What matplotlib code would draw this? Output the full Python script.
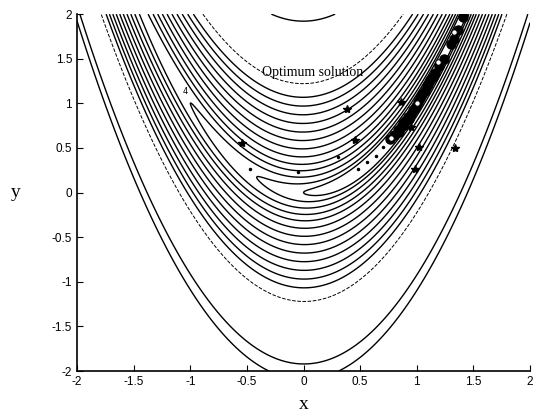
import numpy as np
import matplotlib
matplotlib.use("Agg")
import matplotlib.pyplot as plt

# contour levels of the Rosenbrock function
levels_solid = [1, 2, 4, 7, 11, 17, 25, 35, 47, 61, 77, 95, 115, 370, 440]
levels_faint = [150]

# scattered search points (stars)
star_x = [-0.54, 0.38, 0.45, 0.86, 1.02, 0.98, 1.34, 0.95]
star_y = [0.56, 0.94, 0.59, 1.02, 0.51, 0.26, 0.50, 0.74]

# small dots
dot_x = [0.56, 0.64, 0.70, -0.47, 0.48, -0.05, 0.30]
dot_y = [0.34, 0.41, 0.51, 0.26, 0.26, 0.23, 0.40]

# cluster of points converging to the optimum
clus_x = [0.76, 0.80, 0.83, 0.84, 0.86, 0.88, 0.89, 0.90, 0.92, 0.93, 0.95, 0.97,
          0.98, 0.99, 1.01, 1.03, 1.05, 1.07, 1.09, 1.10, 1.12, 1.14, 1.16, 1.20,
          1.24, 1.30, 1.33, 1.36, 1.41]
clus_y = [0.60, 0.64, 0.70, 0.68, 0.73, 0.78, 0.76, 0.80, 0.85, 0.83, 0.88, 0.93,
          0.95, 0.97, 1.02, 1.06, 1.10, 1.14, 1.19, 1.22, 1.26, 1.30, 1.34, 1.42,
          1.50, 1.66, 1.72, 1.82, 1.97]

# open circles
open_x = [0.77, 1.00, 1.19, 1.33]
open_y = [0.61, 1.00, 1.46, 1.80]

x = np.linspace(-2, 2, 500)
y = np.linspace(-2, 2, 500)
X, Y = np.meshgrid(x, y)
Z = 100 * (Y - X**2)**2 + (1 - X)**2

fig = plt.figure(figsize=(5.4, 4.15), dpi=100)
ax = fig.add_axes([0.1426, 0.106, 0.839, 0.860])

ax.contour(X, Y, Z, levels=levels_solid, colors="black", linewidths=1.0)
ax.contour(X, Y, Z, levels=levels_faint, colors="black", linewidths=0.7,
           linestyles="dashed")

ax.plot(star_x, star_y, "k*", markersize=6)
ax.plot(dot_x, dot_y, "k.", markersize=3)
ax.plot(clus_x, clus_y, "ko", markersize=6.5)
ax.plot(open_x, open_y, "o", markersize=4, markerfacecolor="white",
        markeredgecolor="black", markeredgewidth=0.8)

ax.text(-1.04, 1.13, "4", fontsize=6, ha="center", va="center")
ax.text(-0.37, 1.34, "Optimum solution", family="Liberation Serif", fontsize=10,
        ha="left", va="center")

ax.set_xlim(-2, 2)
ax.set_ylim(-2, 2)
ax.set_xticks([-2, -1.5, -1, -0.5, 0, 0.5, 1, 1.5, 2])
ax.set_xticklabels(["-2", "-1.5", "-1", "-0.5", "0", "0.5", "1", "1.5", "2"])
ax.set_yticks([-2, -1.5, -1, -0.5, 0, 0.5, 1, 1.5, 2])
ax.set_yticklabels(["-2", "-1.5", "-1", "-0.5", "0", "0.5", "1", "1.5", "2"])
ax.tick_params(direction="in", length=4, labelsize=8.5, width=0.8)
for lab in ax.get_xticklabels() + ax.get_yticklabels():
    lab.set_family("Liberation Sans")

ax.spines["top"].set_visible(False)
ax.spines["right"].set_visible(False)
ax.spines["left"].set_linewidth(1.2)
ax.spines["bottom"].set_linewidth(1.2)

ax.set_xlabel("x", family="Liberation Serif", fontsize=14, labelpad=6)
ax.set_ylabel("y", family="Liberation Serif", fontsize=14, rotation=0,
              labelpad=26, va="center")

fig.savefig("out.png", dpi=100)
